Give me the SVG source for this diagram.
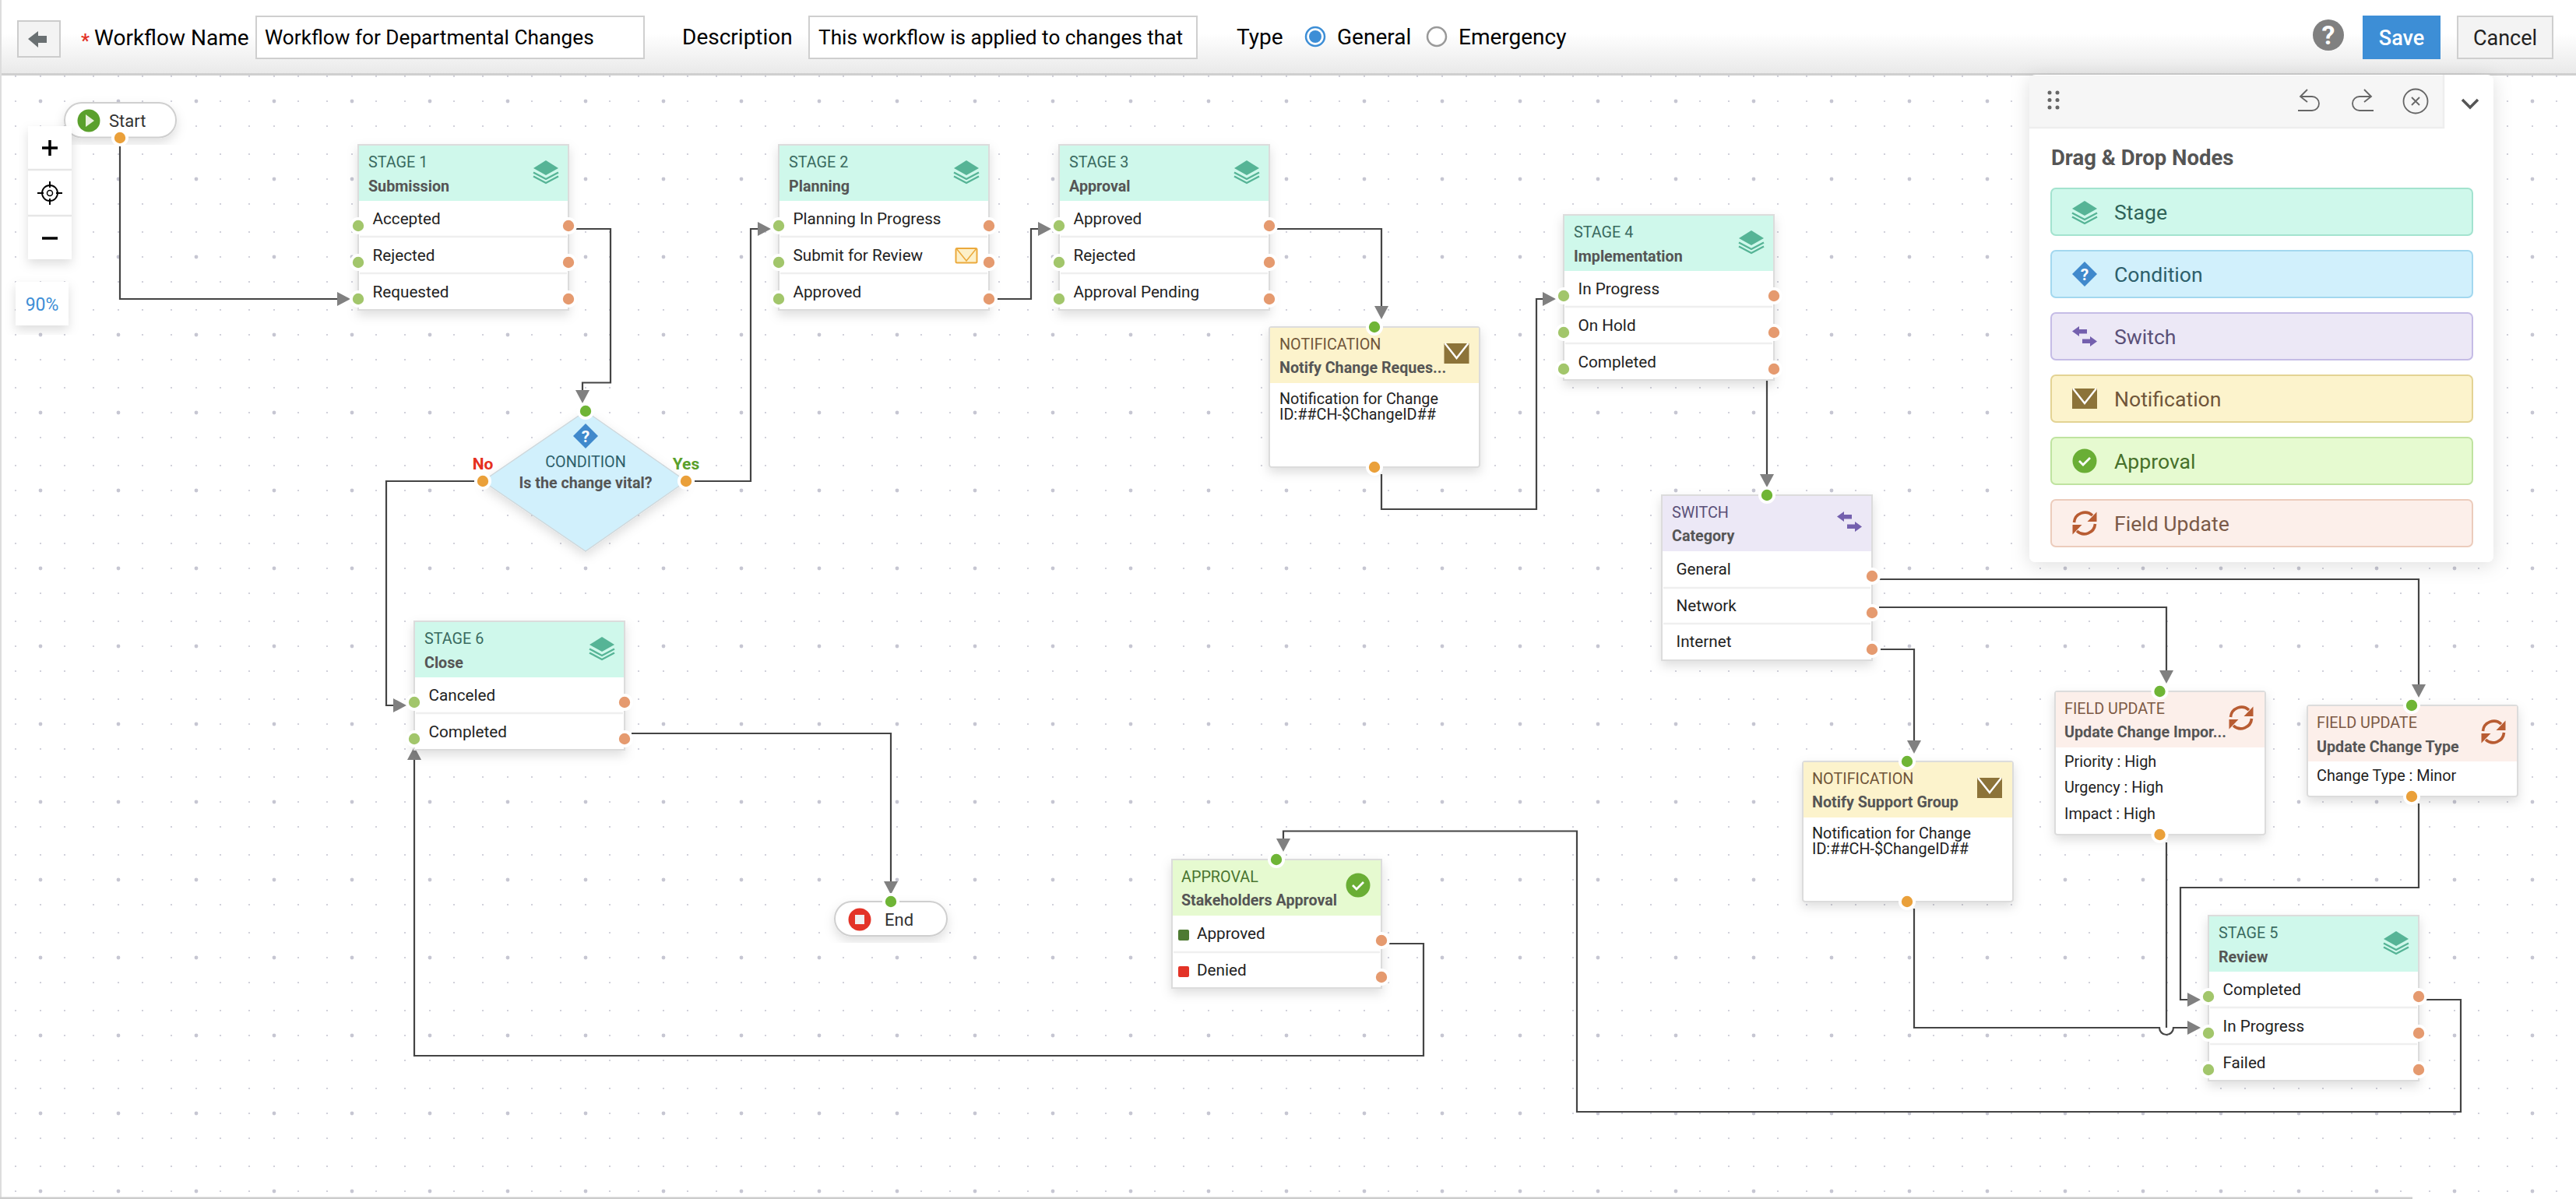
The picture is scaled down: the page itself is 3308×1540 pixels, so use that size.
<svg xmlns="http://www.w3.org/2000/svg" xmlns:xlink="http://www.w3.org/1999/xlink" width="3308" height="1540" viewBox="0 0 3308 1540">
<style>
text{font-family:Roboto,"Liberation Sans",sans-serif}
.hd{font-size:28px;fill:#000}
.in{font-size:26.2px;fill:#000}
.lb{font-size:19.8px}
.bd{font-size:19.7px;font-weight:700;fill:#555}
.rw{font-size:20.7px;fill:#222}
.tx{font-size:19.8px;fill:#222}
.btn{font-size:26.6px}
.card{fill:#fff;stroke:#dcdcdc;stroke-width:2;filter:url(#sh)}
.dv{stroke:#efefef;stroke-width:2.5}
.cn{fill:none;stroke:#444;stroke-width:2.2;marker-end:url(#ah)}
.cp{fill:none;stroke:#444;stroke-width:2.2}
.st{fill:#cff8eb}.stt{fill:#3a6a60}
.sw{fill:#ece8f6}.swt{fill:#5a5078}
.nt{fill:#fcf3cc}.ntt{fill:#70563a}
.ap{fill:#e6fad0}.apt{fill:#4a7530}
.fu{fill:#fcefea}.fut{fill:#7c5a45}
</style>
<defs>
<pattern id="grid" width="100" height="100" patternUnits="userSpaceOnUse">
<g fill="#c6c6d2"><circle cx="20" cy="30" r="1.1"/><circle cx="52" cy="30" r="2.4"/><circle cx="83" cy="30" r="1.1"/><circle cx="20" cy="62" r="1.1"/><circle cx="52" cy="62" r="1.1"/><circle cx="83" cy="62" r="1.1"/><circle cx="20" cy="98" r="1.1"/><circle cx="52" cy="98" r="1.1"/><circle cx="83" cy="98" r="1.1"/></g>
</pattern>
<linearGradient id="hg" x1="0" y1="0" x2="0" y2="1"><stop offset=".45" stop-color="#fff"/><stop offset="1" stop-color="#e9e9e9"/></linearGradient>
<filter id="sh" x="-20%" y="-20%" width="140%" height="140%"><feDropShadow dx="0" dy="6" stdDeviation="7" flood-color="#000" flood-opacity=".13"/></filter>
<filter id="psh" x="-10%" y="-10%" width="120%" height="120%"><feDropShadow dx="0" dy="4" stdDeviation="12" flood-color="#000" flood-opacity=".13"/></filter>
<marker id="ah" markerUnits="userSpaceOnUse" markerWidth="18" markerHeight="20" refX="0" refY="9.5" orient="auto"><path d="M0,.5 L17,9.5 L0,18.5 Z" fill="#808080"/></marker>
<g id="pg"><circle r="11" fill="#fff"/><circle r="7.2" fill="#a2c66b"/></g>
<g id="po"><circle r="11" fill="#fff"/><circle r="7.2" fill="#e59a6f"/></g>
<g id="pt"><circle r="11" fill="#fff"/><circle r="7.2" fill="#6fb536"/></g>
<g id="pb"><circle r="11" fill="#fff"/><circle r="7.2" fill="#eaa03a"/></g>
<g id="iStage"><path d="M0,-14 L16,-4 L0,5 L-16,-4 Z" fill="#56b496"/><path d="M-16,1.5 L0,10 L16,1.5 M-16,6.5 L0,15 L16,6.5" fill="none" stroke="#56b496" stroke-width="2.4"/></g>
<g id="iSwitch" fill="#7460ae"><path d="M-16,-6.500 L-7,-13 V-9 H3 V-3.500 H-7 V0 Z"/><path d="M16,6.500 L7,0 V3.500 H-3 V9 H7 V13 Z"/></g>
<g id="iEnv"><rect x="-16" y="-13" width="32" height="26" fill="#8c7339"/><path d="M-15,-13 L0,6 L15,-13" fill="none" stroke="#fff" stroke-width="2.4"/></g>
<g id="iFu" fill="none" stroke="#b85c32" stroke-width="3.600"><path d="M-13.500,-1 A14,14 0 0 1 10,-10"/><path d="M13.500,1 A14,14 0 0 1 -10,10"/><path d="M15.500,-14.500 V-2 H3.500 Z" fill="#b85c32" stroke="none"/><path d="M-15.500,14.500 V2 H-3.500 Z" fill="#b85c32" stroke="none"/></g>
<g id="iChk"><circle r="15.500" fill="#6aae35"/><path d="M-7,0 L-2,5 L7,-4" fill="none" stroke="#fff" stroke-width="2.800"/></g>
<g id="iQ"><path d="M0,-16 L16,0 L0,16 L-16,0 Z" fill="#4089cc"/><text x="0" y="7.500" text-anchor="middle" font-size="21" font-weight="700" fill="#fff">?</text></g>
</defs>

<rect id="canvas" width="3308" height="1540" fill="#fff"/>
<rect y="97" width="3308" height="1443" fill="url(#grid)"/>

<g id="toolbar">
<rect width="3308" height="95" fill="url(#hg)"/>
<rect y="94" width="3308" height="3" fill="#cfcfcf"/>
<rect x="23" y="27" width="54" height="46" fill="#f3f3f3" stroke="#cccccc" stroke-width="2"/>
<path d="M36,50 L49,40 V46 H60 V55 H49 V61 Z" fill="#6a7072"/>
<text x="104" y="60" font-size="24" font-weight="700" fill="#e33327">*</text>
<text x="121" y="58" class="hd">Workflow Name</text>
<rect x="329" y="21" width="498" height="54" fill="#fff" stroke="#cfcfcf" stroke-width="2"/>
<text x="340" y="57" class="in">Workflow for Departmental Changes</text>
<text x="876" y="57" class="hd">Description</text>
<rect x="1039" y="21" width="498" height="54" fill="#fff" stroke="#cfcfcf" stroke-width="2"/>
<text x="1051" y="57" class="in">This workflow is applied to changes that</text>
<text x="1588" y="57" class="hd">Type</text>
<circle cx="1689" cy="47" r="12" fill="#fff" stroke="#3d8ed6" stroke-width="2.500"/><circle cx="1689" cy="47" r="8" fill="#3d8ed6"/>
<text x="1717" y="57" class="hd">General</text>
<circle cx="1845" cy="47" r="12" fill="#fff" stroke="#999" stroke-width="2.500"/>
<text x="1873" y="57" class="hd">Emergency</text>
<circle cx="2990" cy="45" r="20" fill="#808080"/><text x="2990" y="57" text-anchor="middle" font-size="34" font-weight="700" fill="#fff">?</text>
<rect x="3034" y="20" width="100" height="56" fill="#3d8ed6"/><text x="3084" y="58" text-anchor="middle" font-size="27" font-weight="500" fill="#fff">Save</text>
<rect x="3156" y="21" width="122" height="54" fill="#f3f3f3" stroke="#cfcfcf" stroke-width="2"/><text x="3217" y="58" text-anchor="middle" font-size="27" fill="#222">Cancel</text>
</g>

<g id="connectors">
<path class="cn" d="M154,186 V384 H433"/>
<path class="cn" d="M738,294 H784 V491.500 H748 V501"/>
<path class="cn" d="M891,618 H964 V294 H973"/>
<path class="cn" d="M611,618 H496 V906 H505"/>
<path class="cn" d="M1279,384 H1324 V294 H1333"/>
<path class="cn" d="M1639,294 H1774 V393"/>
<path class="cn" d="M1774,609 V654 H1973 V384 H1981"/>
<path class="cn" d="M2269,483 V609"/>
<path class="cn" d="M2413,744 H3106 V879"/>
<path class="cn" d="M2413,780 H2782 V861"/>
<path class="cn" d="M2413,834 H2458 V951"/>
<path class="cn" d="M3106,1032 V1140 H2800 V1284 H2809"/>
<path class="cp" d="M2782,1082 V1320"/>
<path class="cn" d="M2458,1167 V1320 H2773 A9,9 0 0 0 2791,1320 H2809"/>
<path class="cn" d="M3115,1284 H3160 V1428 H2025 V1067.500 H1648 V1077"/>
<path class="cn" d="M1783,1212 H1828 V1356 H532 V976"/>
<path class="cn" d="M811,942 H1144 V1132"/>
</g>

<g id="node-start">
<rect x="83" y="132" width="143" height="44.500" rx="22" fill="#fff" stroke="#cfcfcf" stroke-width="2" filter="url(#sh)"/>
<circle cx="114" cy="155" r="14.500" fill="#5aa02c"/><path d="M110,147 L121,155 L110,163 Z" fill="#e8f0dc"/>
<text x="140" y="162.500" font-size="22" fill="#333">Start</text>
<use href="#pb" x="154" y="177"/>
</g>

<g id="zoom-controls">
<rect x="36" y="162" width="56" height="171" fill="#fff" filter="url(#sh)"/>
<path d="M36,218 H92 M36,277 H92" stroke="#e6e6e6" stroke-width="2.500"/>
<path d="M54,190 H74 M64,180 V200 M54,306 H74" stroke="#000" stroke-width="3.500"/>
<circle cx="64" cy="248" r="10" fill="none" stroke="#000" stroke-width="1.800"/><circle cx="64" cy="248" r="3.500" fill="none" stroke="#000" stroke-width="1.500"/>
<path d="M64,233 V241 M64,255 V263 M48,248 H56 M72,248 H80" stroke="#000" stroke-width="2"/>
<rect x="20" y="362" width="68" height="56" fill="#fff" filter="url(#sh)"/>
<text x="54" y="399" text-anchor="middle" font-size="23" fill="#3d8ed6">90%</text>
</g>

<g id="node-stage1" transform="translate(460,186)">
<rect class="card" width="270" height="212"/><rect class="st" x="1" y="1" width="268" height="71"/>
<path class="dv" d="M2,118 H268 M2,165 H268"/>
<text x="13" y="29" class="lb stt">STAGE 1</text><text x="13" y="59.500" class="bd">Submission</text>
<use href="#iStage" x="241" y="34"/>
<text x="18.500" y="102" class="rw">Accepted</text><text x="18.500" y="149" class="rw">Rejected</text><text x="18.500" y="196" class="rw">Requested</text>
<use href="#pg" y="104"/><use href="#pg" y="151"/><use href="#pg" y="198"/>
<use href="#po" x="270" y="104"/><use href="#po" x="270" y="151"/><use href="#po" x="270" y="198"/>
</g>

<g id="node-stage2" transform="translate(1000,186)">
<rect class="card" width="270" height="212"/><rect class="st" x="1" y="1" width="268" height="71"/>
<path class="dv" d="M2,118 H268 M2,165 H268"/>
<text x="13" y="29" class="lb stt">STAGE 2</text><text x="13" y="59.500" class="bd">Planning</text>
<use href="#iStage" x="241" y="34"/>
<text x="18.500" y="102" class="rw">Planning In Progress</text><text x="18.500" y="149" class="rw">Submit for Review</text><text x="18.500" y="196" class="rw">Approved</text>
<rect x="227.500" y="133" width="27" height="18.500" rx="1.500" fill="#fdf0c8" stroke="#eba93c" stroke-width="2"/><path d="M228,133 L241,149 L254,133" fill="none" stroke="#eba93c" stroke-width="1.500"/>
<use href="#pg" y="104"/><use href="#pg" y="151"/><use href="#pg" y="198"/>
<use href="#po" x="270" y="104"/><use href="#po" x="270" y="151"/><use href="#po" x="270" y="198"/>
</g>

<g id="node-stage3" transform="translate(1360,186)">
<rect class="card" width="270" height="212"/><rect class="st" x="1" y="1" width="268" height="71"/>
<path class="dv" d="M2,118 H268 M2,165 H268"/>
<text x="13" y="29" class="lb stt">STAGE 3</text><text x="13" y="59.500" class="bd">Approval</text>
<use href="#iStage" x="241" y="34"/>
<text x="18.500" y="102" class="rw">Approved</text><text x="18.500" y="149" class="rw">Rejected</text><text x="18.500" y="196" class="rw">Approval Pending</text>
<use href="#pg" y="104"/><use href="#pg" y="151"/><use href="#pg" y="198"/>
<use href="#po" x="270" y="104"/><use href="#po" x="270" y="151"/><use href="#po" x="270" y="198"/>
</g>

<g id="node-stage4" transform="translate(2008,276)">
<rect class="card" width="270" height="212"/><rect class="st" x="1" y="1" width="268" height="71"/>
<path class="dv" d="M2,118 H268 M2,165 H268"/>
<text x="13" y="29" class="lb stt">STAGE 4</text><text x="13" y="59.500" class="bd">Implementation</text>
<use href="#iStage" x="241" y="34"/>
<text x="18.500" y="102" class="rw">In Progress</text><text x="18.500" y="149" class="rw">On Hold</text><text x="18.500" y="196" class="rw">Completed</text>
<use href="#pg" y="104"/><use href="#pg" y="151"/><use href="#pg" y="198"/>
<use href="#po" x="270" y="104"/><use href="#po" x="270" y="151"/><use href="#po" x="270" y="198"/>
</g>

<g id="node-stage5" transform="translate(2836,1176)">
<rect class="card" width="270" height="212"/><rect class="st" x="1" y="1" width="268" height="71"/>
<path class="dv" d="M2,118 H268 M2,165 H268"/>
<text x="13" y="29" class="lb stt">STAGE 5</text><text x="13" y="59.500" class="bd">Review</text>
<use href="#iStage" x="241" y="34"/>
<text x="18.500" y="102" class="rw">Completed</text><text x="18.500" y="149" class="rw">In Progress</text><text x="18.500" y="196" class="rw">Failed</text>
<use href="#pg" y="104"/><use href="#pg" y="151"/><use href="#pg" y="198"/>
<use href="#po" x="270" y="104"/><use href="#po" x="270" y="151"/><use href="#po" x="270" y="198"/>
</g>

<g id="node-stage6" transform="translate(532,798)">
<rect class="card" width="270" height="165"/><rect class="st" x="1" y="1" width="268" height="71"/>
<path class="dv" d="M2,118 H268"/>
<text x="13" y="29" class="lb stt">STAGE 6</text><text x="13" y="59.500" class="bd">Close</text>
<use href="#iStage" x="241" y="34"/>
<text x="18.500" y="102" class="rw">Canceled</text><text x="18.500" y="149" class="rw">Completed</text>
<use href="#pg" y="104"/><use href="#pg" y="151"/>
<use href="#po" x="270" y="104"/><use href="#po" x="270" y="151"/>
</g>

<g id="node-condition">
<path d="M752,528 L881,618 L752,708 L620,618 Z" fill="#d1f0fc" stroke="#cfd8dc" stroke-width="1.500" filter="url(#sh)"/>
<use href="#iQ" x="752" y="560"/>
<text x="752" y="600" text-anchor="middle" class="lb" fill="#2d5f6b">CONDITION</text>
<text x="752" y="627" text-anchor="middle" class="bd">Is the change vital?</text>
<text x="620" y="603" text-anchor="middle" font-size="21" font-weight="700" fill="#e53020">No</text>
<text x="881" y="603" text-anchor="middle" font-size="21" font-weight="700" fill="#5aa02c">Yes</text>
<use href="#pt" x="752" y="528"/><use href="#pb" x="620" y="618"/><use href="#pb" x="881" y="618"/>
</g>

<g id="node-notification1" transform="translate(1630,420)">
<rect class="card" width="270" height="180" rx="3"/><rect class="nt" x="1" y="1" width="268" height="71"/>
<text x="13" y="29" class="lb ntt">NOTIFICATION</text><text x="13" y="59" class="bd">Notify Change Reques...</text>
<use href="#iEnv" x="240.500" y="34"/>
<text x="13" y="99" class="tx">Notification for Change</text><text x="13" y="119" class="tx">ID:##CH-$ChangeID##</text>
<use href="#pt" x="135"/><use href="#pb" x="135" y="180"/>
</g>

<g id="node-switch" transform="translate(2134,636)">
<rect class="card" width="270" height="212"/><rect class="sw" x="1" y="1" width="268" height="71"/>
<path class="dv" d="M2,119 H268 M2,165 H268"/>
<text x="13" y="29" class="lb swt">SWITCH</text><text x="13" y="59" class="bd">Category</text>
<use href="#iSwitch" x="241" y="34"/>
<text x="18.500" y="102" class="rw">General</text><text x="18.500" y="149" class="rw">Network</text><text x="18.500" y="195" class="rw">Internet</text>
<use href="#pt" x="135"/>
<use href="#po" x="270" y="104"/><use href="#po" x="270" y="151"/><use href="#po" x="270" y="198"/>
</g>

<g id="node-notification2" transform="translate(2315,978)">
<rect class="card" width="270" height="180" rx="3"/><rect class="nt" x="1" y="1" width="268" height="71"/>
<text x="12" y="29" class="lb ntt">NOTIFICATION</text><text x="12" y="59" class="bd">Notify Support Group</text>
<use href="#iEnv" x="240" y="34"/>
<text x="12" y="99" class="tx">Notification for Change</text><text x="12" y="119" class="tx">ID:##CH-$ChangeID##</text>
<use href="#pt" x="134"/><use href="#pb" x="134" y="180"/>
</g>

<g id="node-fieldupdate1" transform="translate(2639,888)">
<rect class="card" width="270" height="184" rx="3"/><rect class="fu" x="1" y="1" width="268" height="71"/>
<text x="12" y="29" class="lb fut">FIELD UPDATE</text><text x="12" y="59" class="bd">Update Change Impor...</text>
<use href="#iFu" x="239" y="34"/>
<text x="12" y="97" class="tx">Priority : High</text><text x="12" y="130" class="tx">Urgency : High</text><text x="12" y="164" class="tx">Impact : High</text>
<use href="#pt" x="134.500"/><use href="#pb" x="134.500" y="184"/>
</g>

<g id="node-fieldupdate2" transform="translate(2963,906)">
<rect class="card" width="270" height="117" rx="3"/><rect class="fu" x="1" y="1" width="268" height="71"/>
<text x="12" y="29" class="lb fut">FIELD UPDATE</text><text x="12" y="60" class="bd">Update Change Type</text>
<use href="#iFu" x="239" y="34"/>
<text x="12" y="97" class="tx">Change Type : Minor</text>
<use href="#pt" x="134"/><use href="#pb" x="134" y="117"/>
</g>

<g id="node-approval" transform="translate(1505,1104)">
<rect class="card" width="269" height="165"/><rect class="ap" x="1" y="1" width="267" height="71"/>
<path class="dv" d="M2,119 H267"/>
<text x="12" y="29" class="lb apt">APPROVAL</text><text x="12" y="59" class="bd">Stakeholders Approval</text>
<use href="#iChk" x="239" y="33"/>
<rect x="8" y="90" width="14" height="14" rx="2" fill="#4e7a32"/><rect x="8" y="137" width="14" height="14" rx="2" fill="#e33327"/>
<text x="32" y="102" class="rw">Approved</text><text x="32" y="149" class="rw">Denied</text>
<use href="#pt" x="134"/><use href="#po" x="269" y="104"/><use href="#po" x="269" y="151"/>
</g>

<g id="node-end">
<rect x="1072" y="1158" width="144" height="44" rx="22" fill="#fff" stroke="#cfcfcf" stroke-width="2" filter="url(#sh)"/>
<circle cx="1104" cy="1181" r="14.500" fill="#e33327"/><rect x="1098" y="1175" width="12" height="12" fill="#f0f0f0"/>
<text x="1136" y="1189" font-size="22" fill="#333">End</text>
<use href="#pt" x="1144" y="1158"/>
</g>

<g id="palette">
<rect x="2606" y="96" width="596" height="626" rx="8" fill="#fff" filter="url(#psh)"/>
<path d="M2606,97 H3138 V164 H2606 Z" fill="#f6f6f6"/>
<path d="M2606,164 H3138 V96" fill="none" stroke="#eeeeee" stroke-width="2.500"/>
<g fill="#666"><circle cx="2632" cy="119" r="2.500"/><circle cx="2642" cy="119" r="2.500"/><circle cx="2632" cy="128.500" r="2.500"/><circle cx="2642" cy="128.500" r="2.500"/><circle cx="2632" cy="138" r="2.500"/><circle cx="2642" cy="138" r="2.500"/></g>
<g fill="none" stroke="#666" stroke-width="1.800">
<path d="M2963,115 L2954,124 L2963,131 M2954,124 H2969 A9,9 0 0 1 2969,142 H2951"/>
<path d="M3036,115 L3045,124 L3036,131 M3045,124 H3030 A9,9 0 0 0 3030,142 H3048"/>
<circle cx="3102" cy="130" r="15.500"/><path d="M3097,125 L3107,135 M3107,125 L3097,135"/>
</g>
<path d="M3162,128 L3172,138 L3182,128" fill="none" stroke="#555" stroke-width="3.500"/>
<text x="2634" y="212" font-size="27.500" font-weight="700" fill="#555">Drag &amp; Drop Nodes</text>
<g id="pal-stage"><rect x="2634" y="242" width="541" height="60" rx="6" class="st" stroke="#a3e3cf" stroke-width="2"/><use href="#iStage" x="2677" y="272"/><text x="2715" y="282" class="btn" fill="#2f6358">Stage</text></g>
<g id="pal-condition"><rect x="2634" y="322" width="541" height="60" rx="6" fill="#d1f0fc" stroke="#a3d8ef" stroke-width="2"/><use href="#iQ" x="2677" y="352"/><text x="2715" y="362" class="btn" fill="#2d5f6b">Condition</text></g>
<g id="pal-switch"><rect x="2634" y="402" width="541" height="60" rx="6" class="sw" stroke="#c5bce6" stroke-width="2"/><use href="#iSwitch" x="2677" y="432"/><text x="2715" y="442" class="btn" fill="#5a5078">Switch</text></g>
<g id="pal-notification"><rect x="2634" y="482" width="541" height="60" rx="6" class="nt" stroke="#e3d394" stroke-width="2"/><use href="#iEnv" x="2677" y="512"/><text x="2715" y="522" class="btn" fill="#70563a">Notification</text></g>
<g id="pal-approval"><rect x="2634" y="562" width="541" height="60" rx="6" class="ap" stroke="#bfe3a0" stroke-width="2"/><use href="#iChk" x="2677" y="592"/><text x="2715" y="602" class="btn" fill="#47702a">Approval</text></g>
<g id="pal-field"><rect x="2634" y="642" width="541" height="60" rx="6" class="fu" stroke="#ecccbc" stroke-width="2"/><use href="#iFu" x="2677" y="672"/><text x="2715" y="682" class="btn" fill="#7a5a48">Field Update</text></g>
</g>

<g id="frame">
<rect width="2" height="1540" fill="#dddddd"/>
<rect y="1537.500" width="3098" height="2.500" fill="#cccccc"/>
</g>
</svg>
